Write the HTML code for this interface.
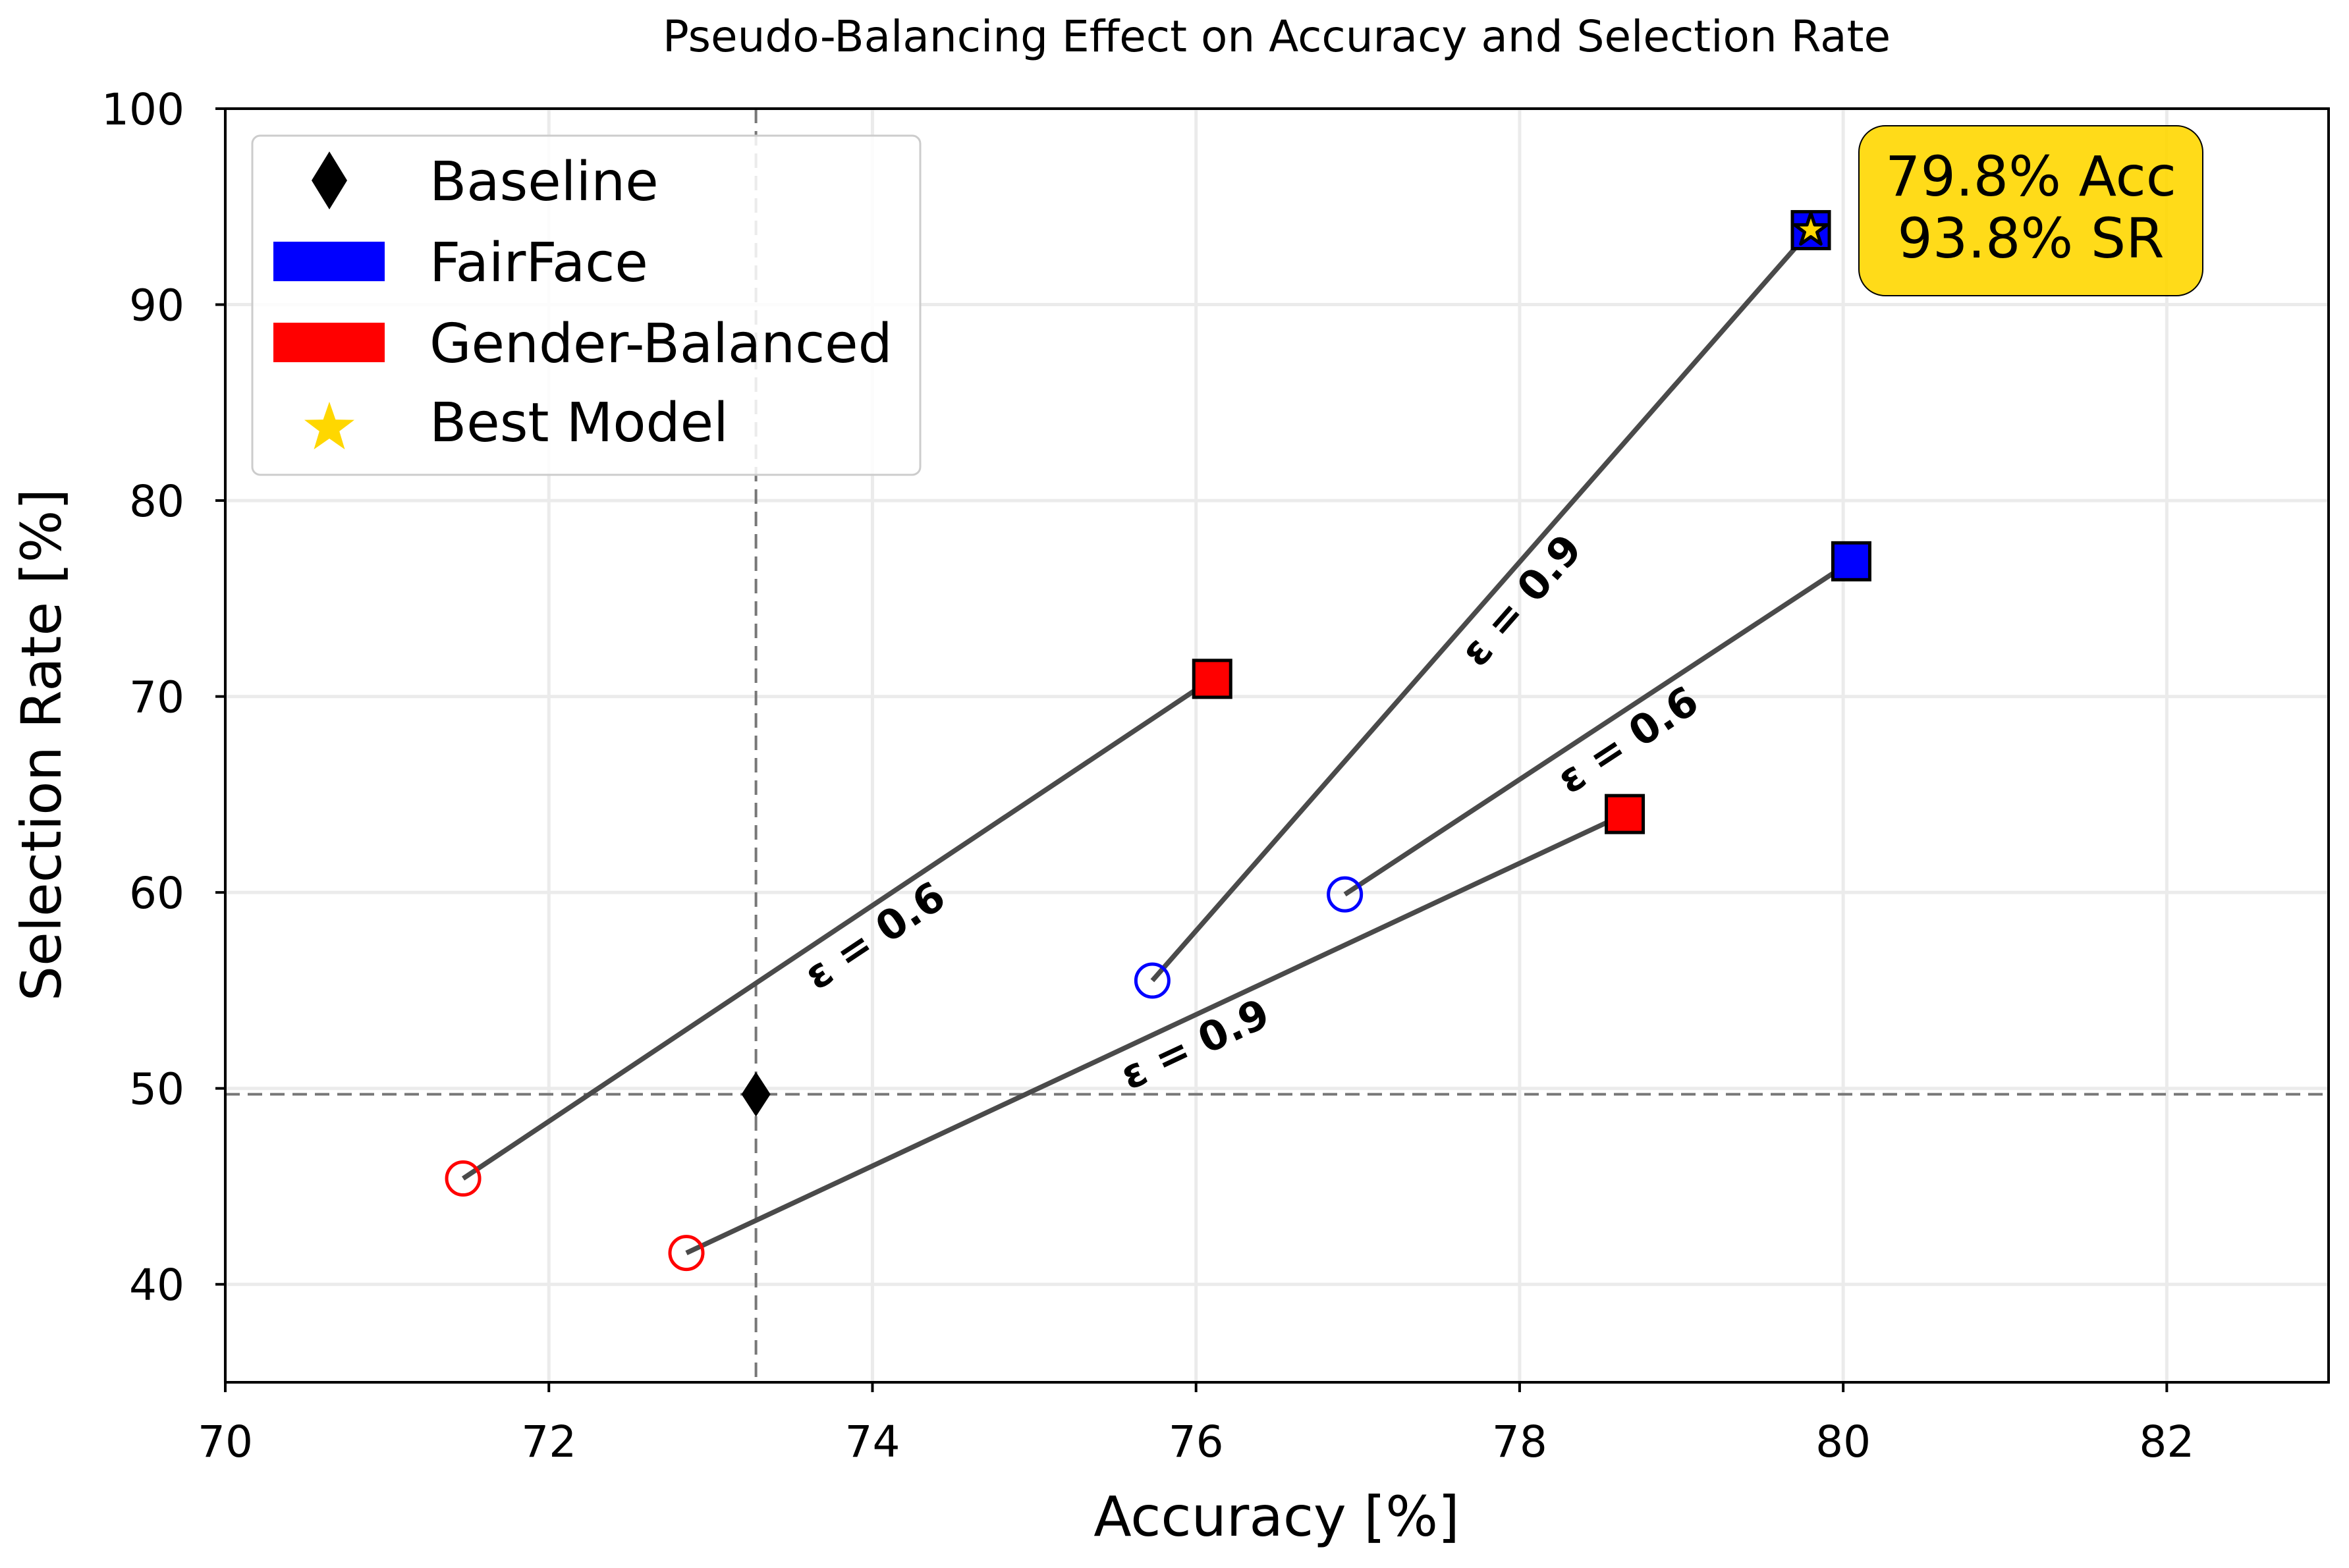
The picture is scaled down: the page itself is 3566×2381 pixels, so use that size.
<!DOCTYPE html>
<html><head><meta charset="utf-8"><style>
html,body{margin:0;padding:0;background:#fff}
svg text{font-family:"DejaVu Sans","Liberation Sans",sans-serif}
</style></head><body>
<svg id="chart" width="3566" height="2376" viewBox="0 0 3566 2376" xmlns="http://www.w3.org/2000/svg">
<rect width="3566" height="2376" fill="#fff"/>
<g id="grid"></g>
<g id="refs"></g>
<g id="arrows"></g>
<g id="marks"></g>
<g id="axes"></g>
<text x="1938" y="78" font-size="66" text-anchor="middle">Pseudo-Balancing Effect on Accuracy and Selection Rate</text>
<text x="1938" y="2332" font-size="84" text-anchor="middle">Accuracy [%]</text>
<text transform="translate(92,1131) rotate(-90)" font-size="84" text-anchor="middle">Selection Rate [%]</text>
<g>
<rect x="383" y="206" width="1014" height="515" rx="12" fill="#fff" fill-opacity="0.85" stroke="#ccc" stroke-width="3"/>
<polygon points="500,230 527,274 500,318 473,274" fill="#000"/>
<text x="652" y="304" font-size="82">Baseline</text>
<rect x="415" y="367" width="169" height="60" fill="#0000ff"/>
<text x="652" y="427" font-size="82">FairFace</text>
<rect x="415" y="490" width="169" height="60" fill="#ff0000"/>
<text x="652" y="550" font-size="82">Gender-Balanced</text>
<polygon id="legstar" fill="#ffd700"/>
<text x="652" y="670" font-size="82">Best Model</text>
</g>
<g>
<rect x="2822" y="191" width="522" height="258" rx="40" fill="#ffd700" fill-opacity="0.9" stroke="#000" stroke-width="2"/>
<text x="3083" y="297" font-size="84" text-anchor="middle">79.8% Acc</text>
<text x="3083" y="391" font-size="84" text-anchor="middle">93.8% SR</text>
</g>
</svg>
<script>
const xTicks=[70,72,74,76,78,80,82];
const yTicks=[40,50,60,70,80,90,100];
const baselineAcc=73.28, baselineSR=49.7;
const runGroups=["gender","gender","fairface","fairface"];
const runEps=["0.6","0.9","0.6","0.9"];
const startAcc=[71.47,72.85,76.92,75.73];
const startSR=[45.4,41.6,59.9,55.5];
const endAcc=[76.1,78.65,80.05,79.8];
const endSR=[70.9,64.0,76.9,93.8];
const bestAcc=79.8, bestSR=93.8;

const L=342,R=3535,T=165,B=2099,X0=70,X1=83,Y0=35,Y1=100;
const sx=v=>L+(v-X0)/(X1-X0)*(R-L);
const sy=v=>B-(v-Y0)/(Y1-Y0)*(B-T);
const NS="http://www.w3.org/2000/svg";
function mk(tag,attrs,parent){const e=document.createElementNS(NS,tag);for(const k in attrs)e.setAttribute(k,attrs[k]);document.getElementById(parent).appendChild(e);return e;}
function starPts(cx,cy,ro,ri){let p=[];for(let i=0;i<10;i++){const r=i%2?ri:ro;const a=-Math.PI/2+i*Math.PI/5;p.push((cx+r*Math.cos(a)).toFixed(1)+","+(cy+r*Math.sin(a)).toFixed(1));}return p.join(" ");}
document.getElementById('legstar').setAttribute('points',starPts(500,650,40,16));

xTicks.forEach(t=>{
  const g=mk('line',{x1:sx(t),x2:sx(t),y1:T,y2:B,stroke:'#ebebeb','stroke-width':5},'grid');
  
  
  const tk=mk('line',{x1:sx(t),x2:sx(t),y1:B,y2:B+15,stroke:'#000','stroke-width':4},'axes');
  
  
  const lb=mk('text',{x:sx(t),y:2212,'font-size':66,'text-anchor':'middle'},'axes');lb.textContent=t;
  
  
});
yTicks.forEach(t=>{
  const g=mk('line',{x1:L,x2:R,y1:sy(t),y2:sy(t),stroke:'#ebebeb','stroke-width':5},'grid');
  
  
  const tk=mk('line',{x1:L-15,x2:L,y1:sy(t),y2:sy(t),stroke:'#000','stroke-width':4},'axes');
  
  
  const lb=mk('text',{x:280,y:sy(t)+24,'font-size':66,'text-anchor':'end'},'axes');lb.textContent=t;
  
  
});
const fr=mk('rect',{x:L,y:T,width:R-L,height:B-T,fill:'none',stroke:'#000','stroke-width':4},'axes');



const v=mk('line',{x1:sx(baselineAcc),x2:sx(baselineAcc),y1:T,y2:B,stroke:'#777','stroke-width':4,'stroke-dasharray':'22,12'},'refs');


const h=mk('line',{x1:L,x2:R,y1:sy(baselineSR),y2:sy(baselineSR),stroke:'#777','stroke-width':4,'stroke-dasharray':'22,12'},'refs');



for(let i=0;i<startAcc.length;i++){
  const x1=sx(startAcc[i]),y1=sy(startSR[i]),x2=sx(endAcc[i]),y2=sy(endSR[i]);
  const ang=Math.atan2(y2-y1,x2-x1);
  const ln=mk('line',{x1:x1,y1:y1,x2:x2-10*Math.cos(ang),y2:y2-10*Math.sin(ang),stroke:'#4a4a4a','stroke-width':7.5},'arrows');
  
  
  const hl=22,hw=10;
  const bx=x2-hl*Math.cos(ang),by=y2-hl*Math.sin(ang);
  const hd=mk('polygon',{points:`${x2},${y2} ${bx+hw*Math.sin(ang)},${by-hw*Math.cos(ang)} ${bx-hw*Math.sin(ang)},${by+hw*Math.cos(ang)}`,fill:'#222'},'arrows');
  
  
  const t=0.53, mx=x1+(x2-x1)*t, my=y1+(y2-y1)*t;
  const off=-40;
  const lx=mx+off*Math.sin(ang), ly=my-off*Math.cos(ang);
  const deg=ang*180/Math.PI;
  const tx=mk('text',{x:lx,y:ly,'font-size':62,'font-weight':'bold','text-anchor':'middle','dominant-baseline':'central',transform:`rotate(${deg} ${lx} ${ly})`},'arrows');
  tx.textContent='ε = '+runEps[i];
  
  
  const col=runGroups[i]==='gender'?'#ff0000':'#0000ff';
  const c=mk('circle',{cx:x1,cy:y1,r:25,fill:'none',stroke:col,'stroke-width':5},'marks');
  
  
  const s=mk('rect',{x:x2-28,y:y2-28,width:56,height:56,fill:col,stroke:'#000','stroke-width':5},'marks');
  
  
}
const bx0=sx(baselineAcc),by0=sy(baselineSR);
const d=mk('polygon',{points:`${bx0},${by0-34} ${bx0+22},${by0} ${bx0},${by0+34} ${bx0-22},${by0}`,fill:'#000'},'marks');


const st=mk('polygon',{points:starPts(sx(bestAcc),sy(bestSR),26,10),fill:'#ffd700',stroke:'#000','stroke-width':5,'stroke-linejoin':'round'},'marks');


</script>
</body></html>
